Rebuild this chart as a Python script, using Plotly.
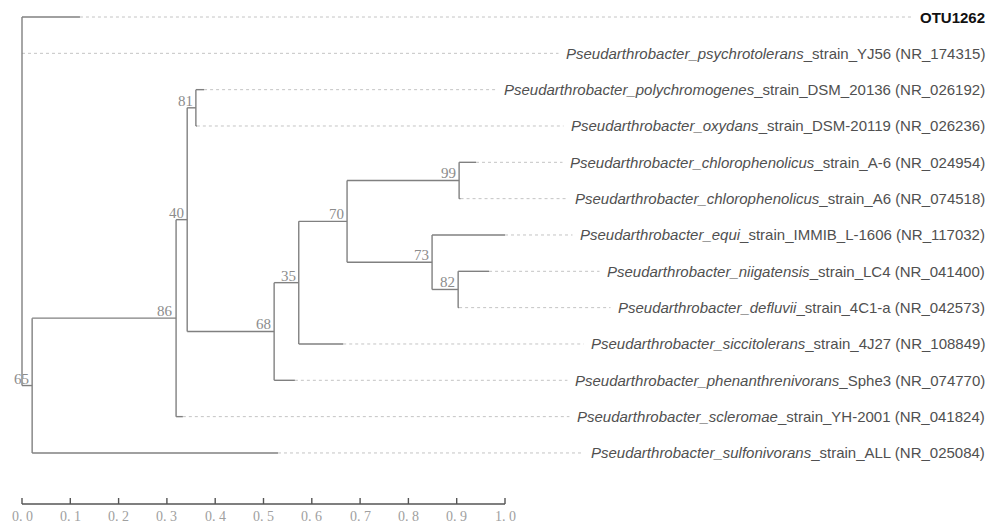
import plotly.graph_objects as go

# ---------------- data ----------------
leaf_ids = ["OTU1262", "YJ56", "DSM_20136", "DSM-20119", "A-6", "A6", "IMMIB", "LC4",
            "4C1-a", "4J27", "Sphe3", "YH-2001", "ALL"]
leaf_species = ["", "psychrotolerans", "polychromogenes", "oxydans", "chlorophenolicus",
                "chlorophenolicus", "equi", "niigatensis", "defluvii", "siccitolerans",
                "phenanthrenivorans", "scleromae", "sulfonivorans"]
leaf_rest = ["OTU1262", "_strain_YJ56 (NR_174315)", "_strain_DSM_20136 (NR_026192)",
             "_strain_DSM-20119 (NR_026236)", "_strain_A-6 (NR_024954)",
             "_strain_A6 (NR_074518)", "_strain_IMMIB_L-1606 (NR_117032)",
             "_strain_LC4 (NR_041400)", "_strain_4C1-a (NR_042573)",
             "_strain_4J27 (NR_108849)", "_Sphe3 (NR_074770)",
             "_strain_YH-2001 (NR_041824)", "_strain_ALL (NR_025084)"]
leaf_depth = [0.120, 0.000, 0.377, 0.362, 0.940, 0.908, 1.000, 0.967, 0.905,
              0.665, 0.565, 0.333, 0.530]

# internal nodes: id, depth, children, bootstrap support
node_ids = ["root", "n65", "n86", "n40", "n81", "n68", "n35", "n70", "n99", "n73", "n82"]
node_depth = [0.000, 0.021, 0.319, 0.342, 0.360, 0.522, 0.573, 0.673, 0.905, 0.849, 0.903]
node_children = [["OTU1262", "YJ56", "n65"], ["n86", "ALL"], ["n40", "YH-2001"],
                 ["n81", "n68"], ["DSM_20136", "DSM-20119"], ["n35", "Sphe3"],
                 ["n70", "4J27"], ["n99", "n73"], ["A-6", "A6"], ["IMMIB", "n82"],
                 ["LC4", "4C1-a"]]
node_support = [None, 65, 86, 40, 81, 68, 35, 70, 99, 73, 82]

scale_ticks = [0.0, 0.1, 0.2, 0.3, 0.4, 0.5, 0.6, 0.7, 0.8, 0.9, 1.0]
scale_labels = ["0. 0", "0. 1", "0. 2", "0. 3", "0. 4", "0. 5", "0. 6", "0. 7",
                "0. 8", "0. 9", "1. 0"]

# ---------------- layout geometry ----------------
W, H = 1002, 526
X0_PX, X1_PX = 22, 505            # pixel of distance 0 and 1
ROW0_PX, ROW_STEP = 17, 36.33     # pixel of first leaf, spacing
SPAN = X1_PX - X0_PX
xr = [-X0_PX / SPAN, (W - X0_PX) / SPAN]
yr = [(H - ROW0_PX) / ROW_STEP, -ROW0_PX / ROW_STEP]
LABEL_ANCHOR = (993 - X0_PX) / SPAN
LEADER_END = (975 - X0_PX) / SPAN
px_y = 1 / ROW_STEP

# ---------------- compute positions ----------------
pos = {}
for i, lid in enumerate(leaf_ids):
    pos[lid] = (leaf_depth[i], float(i))

def node_y(nid):
    if nid in pos:
        return pos[nid][1]
    k = node_ids.index(nid)
    ys = [node_y(c) for c in node_children[k]]
    y = (ys[0] + ys[-1]) / 2
    pos[nid] = (node_depth[k], y)
    return y

for nid in node_ids:
    node_y(nid)

tx, ty = [], []
for k, nid in enumerate(node_ids):
    d = node_depth[k]
    cys = [pos[c][1] for c in node_children[k]]
    tx += [d, d, None]
    ty += [min(cys), max(cys), None]
    for c in node_children[k]:
        cd, cy = pos[c]
        if cd > d:
            tx += [d, cd, None]
            ty += [cy, cy, None]

lx, ly = [], []
for i, lid in enumerate(leaf_ids):
    lx += [leaf_depth[i], LEADER_END, None]
    ly += [float(i), float(i), None]

fig = go.Figure()
fig.add_trace(go.Scatter(x=lx, y=ly, mode="lines", hoverinfo="skip",
                         line=dict(color="#c4c4c4", width=1, dash="dot")))
fig.add_trace(go.Scatter(x=tx, y=ty, mode="lines", hoverinfo="skip",
                         line=dict(color="#808080", width=1.4)))

# scale bar
sb_y = (504 - ROW0_PX) / ROW_STEP
sx, sy = [scale_ticks[0], scale_ticks[-1], None], [sb_y, sb_y, None]
for t in scale_ticks:
    sx += [t, t, None]
    sy += [sb_y, sb_y - 6 * px_y, None]
fig.add_trace(go.Scatter(x=sx, y=sy, mode="lines", hoverinfo="skip",
                         line=dict(color="#555555", width=1.4)))

annotations = []
for t, lab in zip(scale_ticks, scale_labels):
    annotations.append(dict(x=t, y=sb_y, xref="x", yref="y", text=lab, showarrow=False,
                            xanchor="center", yanchor="top", yshift=-3,
                            font=dict(family="Liberation Serif", size=14, color="#a0a0a0")))

for k, nid in enumerate(node_ids):
    if node_support[k] is None:
        continue
    d, y = pos[nid]
    annotations.append(dict(x=d, y=y, xref="x", yref="y", text=str(node_support[k]),
                            showarrow=False, xanchor="right", yanchor="bottom",
                            xshift=-1, yshift=-3,
                            font=dict(family="Liberation Serif", size=15, color="#8c8c8c")))

for i, lid in enumerate(leaf_ids):
    if leaf_species[i]:
        txt = "<i>Pseudarthrobacter_" + leaf_species[i] + "</i>" + leaf_rest[i]
        fnt = dict(family="Liberation Sans", size=15, color="#505050")
    else:
        txt = "<b>" + leaf_rest[i] + "</b>"
        fnt = dict(family="Liberation Sans", size=15, color="#111111")
    annotations.append(dict(x=LABEL_ANCHOR, y=float(i), xref="x", yref="y", text=txt,
                            showarrow=False, xanchor="right", yanchor="middle",
                            bgcolor="white", borderpad=7, font=fnt))

fig.update_layout(
    width=W, height=H, margin=dict(l=0, r=0, t=0, b=0),
    paper_bgcolor="white", plot_bgcolor="white", showlegend=False,
    xaxis=dict(range=xr, visible=False, fixedrange=True),
    yaxis=dict(range=yr, visible=False, fixedrange=True),
    annotations=annotations,
)
fig.write_html("out.html")
